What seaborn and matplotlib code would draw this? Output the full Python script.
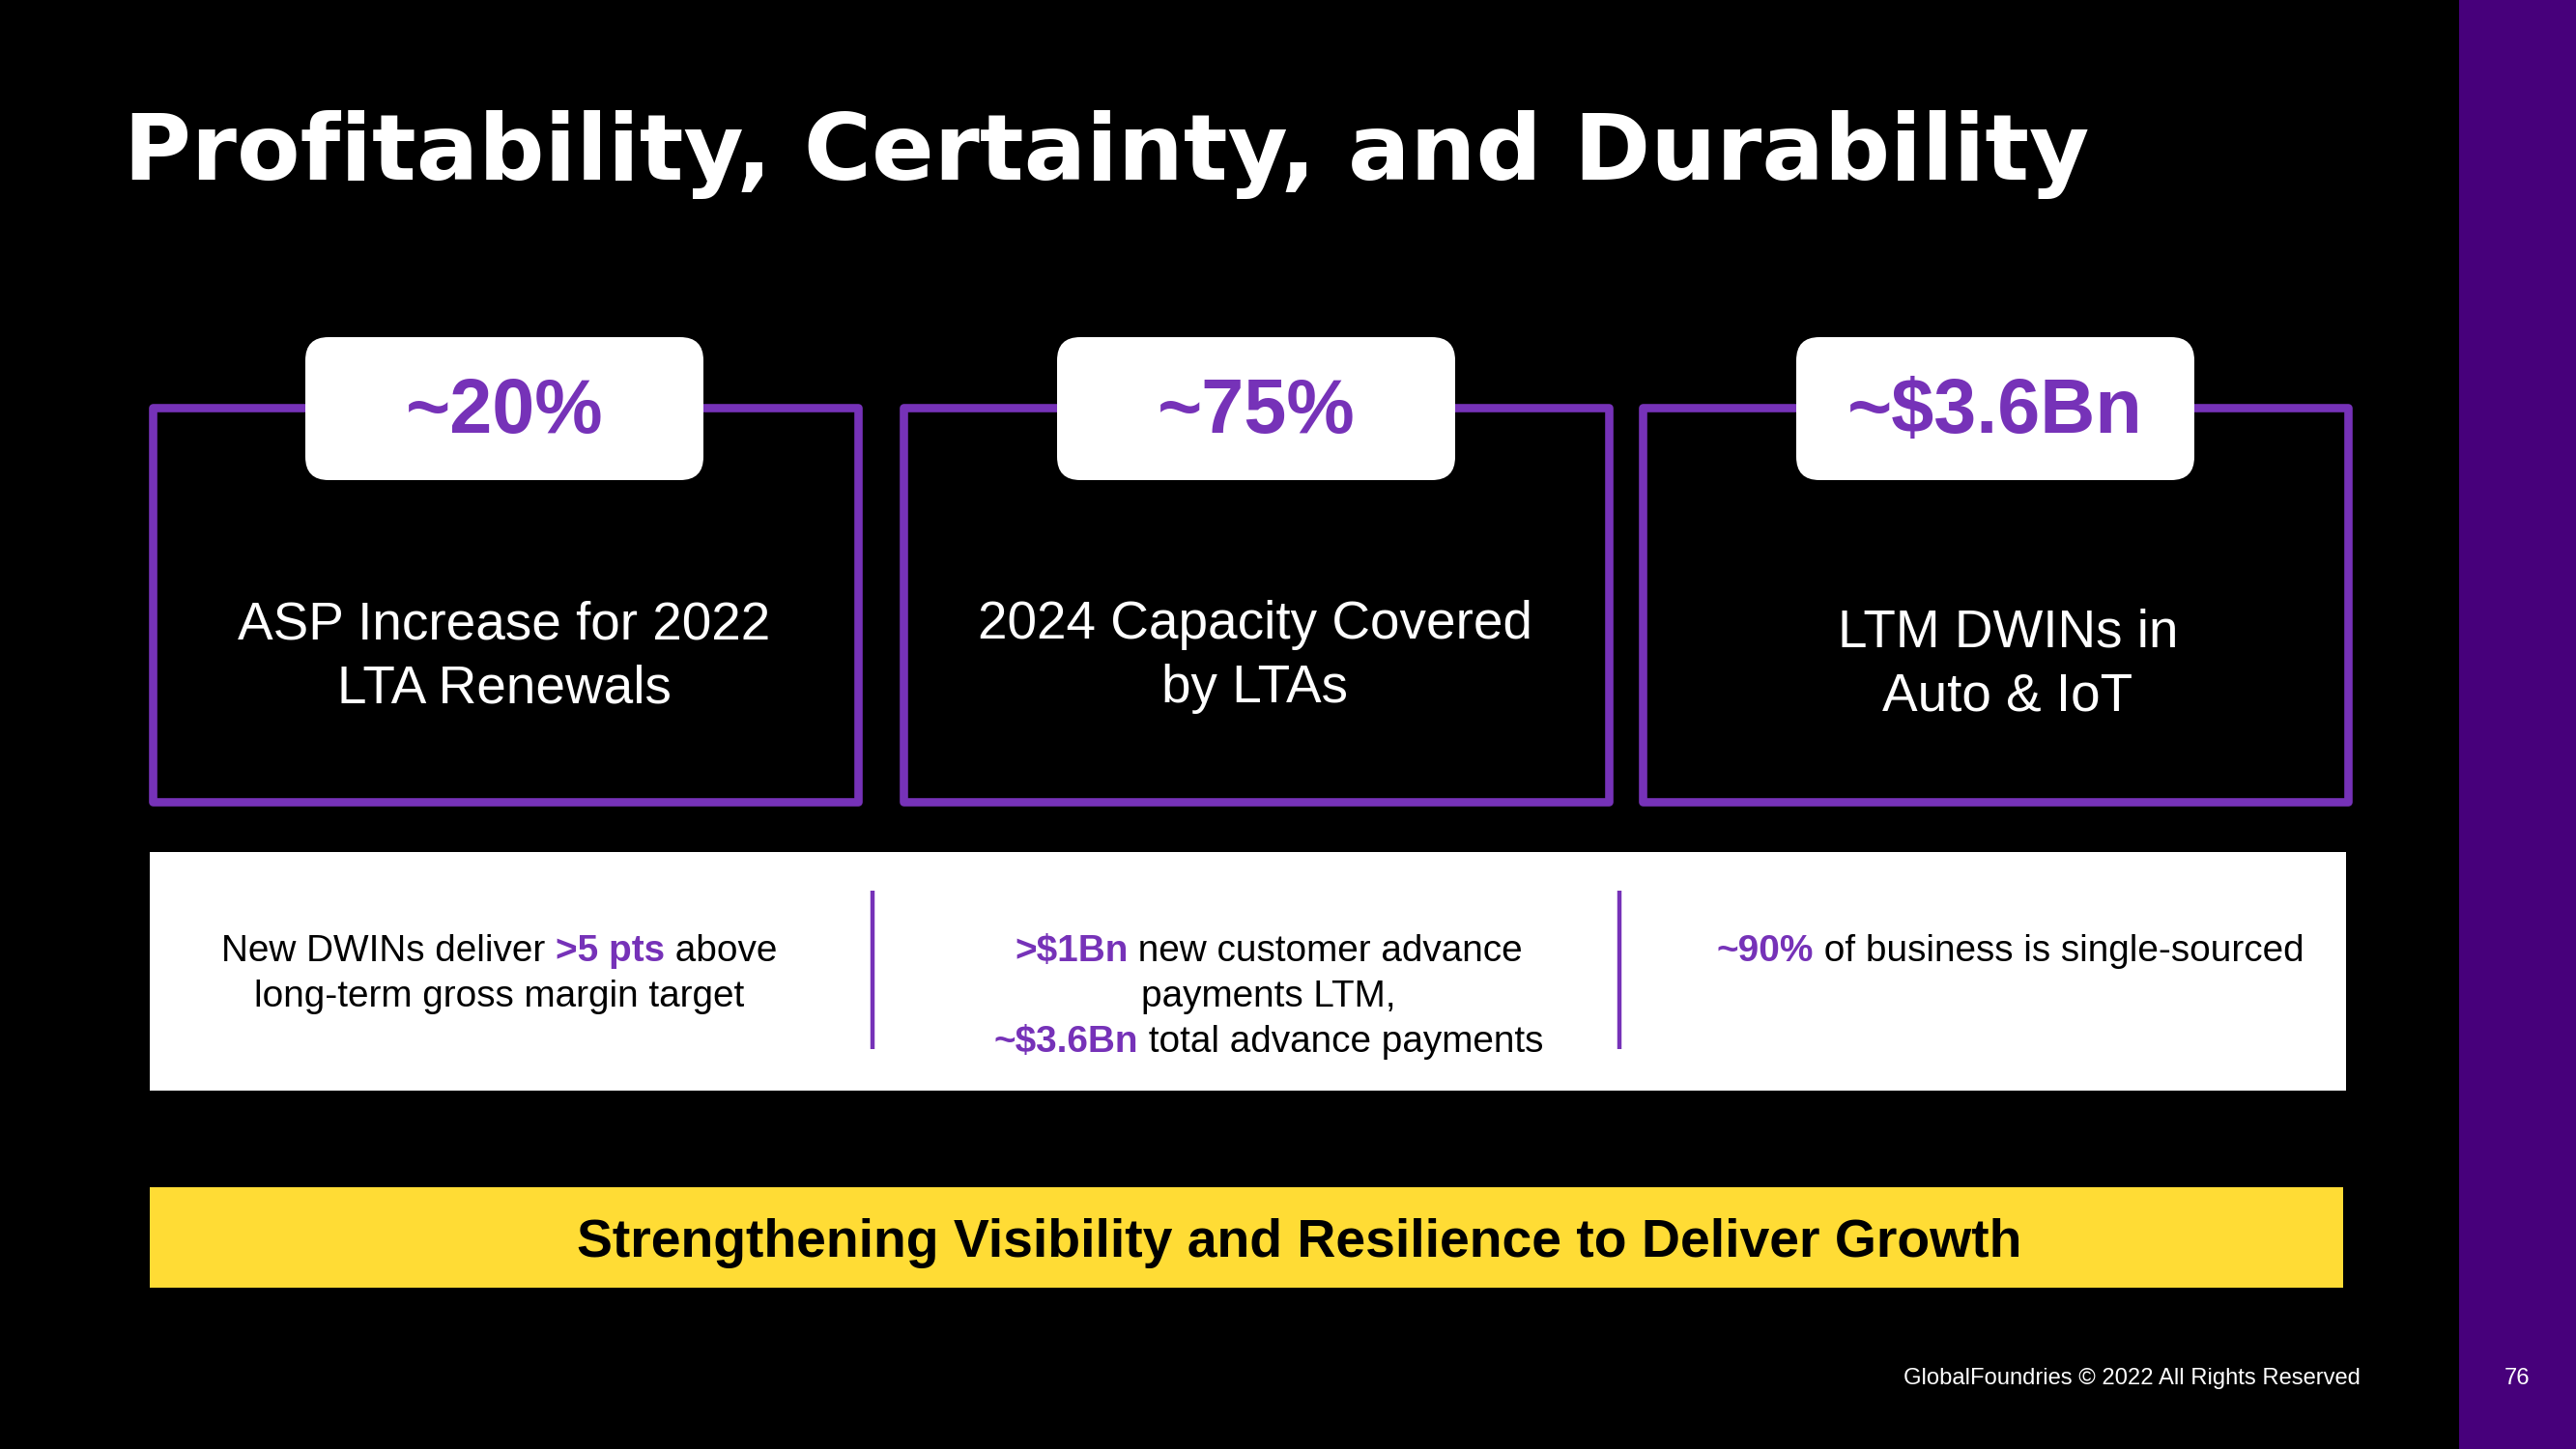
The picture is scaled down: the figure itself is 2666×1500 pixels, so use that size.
import matplotlib
matplotlib.use("Agg")
import matplotlib.pyplot as plt
from matplotlib.patches import Rectangle, FancyBboxPatch
import seaborn as sns

# ---------------- data ----------------
title_text = "Profitability, Certainty, and Durability"
headline_values = ["~20%", "~75%", "~$3.6Bn"]
headline_labels = [
    ["ASP Increase for 2022", "LTA Renewals"],
    ["2024 Capacity Covered", "by LTAs"],
    ["LTM DWINs in", "Auto & IoT"],
]
# each detail column: list of lines, each line a list of (text, highlighted)
detail_col1 = [
    [("New DWINs deliver ", False), (">5 pts", True), (" above", False)],
    [("long-term gross margin target", False)],
]
detail_col2 = [
    [(">$1Bn", True), (" new customer advance", False)],
    [("payments LTM,", False)],
    [("~$3.6Bn", True), (" total advance payments", False)],
]
detail_col3 = [
    [("~90%", True), (" of business is single-sourced", False)],
]
banner_text = "Strengthening Visibility and Resilience to Deliver Growth"
footer_text = "GlobalFoundries \u00a9 2022 All Rights Reserved"
page_number = "76"

# ---------------- style ----------------
sns.set_theme(style="white")
plt.rcParams["font.family"] = ["Liberation Sans", "DejaVu Sans"]

BG = "#000000"
PURPLE = "#7632B8"
STRIP = "#47007B"
YELLOW = "#FFDC35"
WHITE = "#FFFFFF"

W, H = 2666, 1500
fig = plt.figure(figsize=(W / 100, H / 100), dpi=100, facecolor=BG)
ax = fig.add_axes([0, 0, 1, 1])
ax.set_xlim(0, W)
ax.set_ylim(H, 0)
ax.set_facecolor(BG)
ax.axis("off")
sns.despine(ax=ax, left=True, bottom=True)

renderer = fig.canvas.get_renderer()


def text_width(s, **kw):
    t = ax.text(0, 0, "a" + s + "a", **kw)
    w1 = t.get_window_extent(renderer).width
    t.remove()
    t = ax.text(0, 0, "aa", **kw)
    w2 = t.get_window_extent(renderer).width
    t.remove()
    return w1 - w2


def fit_text(x, y, s, target_w, fs0, ha="left", **kw):
    t = ax.text(x, y, s, fontsize=fs0, ha=ha, **kw)
    w = t.get_window_extent(renderer).width
    t.set_fontsize(fs0 * target_w / w)
    return t


def draw_runs(xc, y, runs, fs):
    props = []
    widths = []
    for s, hi in runs:
        kw = dict(fontsize=fs, color=PURPLE if hi else "#000000",
                  fontweight="bold" if hi else "normal")
        props.append(kw)
        widths.append(text_width(s, **kw))
    x = xc - sum(widths) / 2
    for (s, hi), kw, w in zip(runs, props, widths):
        ax.text(x, y, s, ha="left", va="baseline", **kw)
        x += w


# right purple strip
ax.add_patch(Rectangle((2545, 0), W - 2545, H, facecolor=STRIP, edgecolor="none", zorder=1))

# title
fit_text(128, 186, title_text, 2032, 70, ha="left", va="baseline",
         color=WHITE, fontweight="heavy", family=["DejaVu Sans"])

# top three boxes
box_x = [158, 935, 1700]
box_w = 730
box_top, box_bot = 422, 830
label_cx = [522, 1300, 2065]
desc_cx = [522, 1299, 2078]
desc_base = [[662, 728], [661, 727], [669, 735]]
for i in range(3):
    ax.add_patch(Rectangle((box_x[i], box_top), box_w, box_bot - box_top,
                           facecolor="none", edgecolor=PURPLE, lw=6.2, zorder=2,
                           joinstyle="round"))
    ax.add_patch(FancyBboxPatch((label_cx[i] - 206, 349), 412, 148,
                                boxstyle="round,pad=0,rounding_size=24",
                                facecolor=WHITE, edgecolor="none", zorder=3))
    ax.text(label_cx[i], 448, headline_values[i], ha="center", va="baseline",
            fontsize=57, fontweight="bold", color=PURPLE, zorder=4)
    for line, yb in zip(headline_labels[i], desc_base[i]):
        ax.text(desc_cx[i], yb, line, ha="center", va="baseline",
                fontsize=39.5, color=WHITE, zorder=4)

# white detail panel
ax.add_patch(Rectangle((155, 882), 2428 - 155, 1129 - 882, facecolor=WHITE,
                       edgecolor="none", zorder=1))
for xd in [903, 1676]:
    ax.plot([xd, xd], [922, 1086], color=PURPLE, lw=3.2, solid_capstyle="butt", zorder=2)

detail_cols = [detail_col1, detail_col2, detail_col3]
detail_cx = [517, 1313, 2081]
line_base = [995, 1042, 1089]
for col, xc in zip(detail_cols, detail_cx):
    for line, yb in zip(col, line_base):
        draw_runs(xc, yb, line, 27.9)

# yellow banner
ax.add_patch(Rectangle((155, 1229), 2425 - 155, 1333 - 1229, facecolor=YELLOW,
                       edgecolor="none", zorder=1))
fit_text(597, 1301, banner_text, 1500, 33, ha="left", va="baseline",
         color="#000000", fontweight="bold")

# footer
ax.text(2443, 1433, footer_text, ha="right", va="baseline", fontsize=17.1, color=WHITE)
ax.text(2605, 1433, page_number, ha="center", va="baseline", fontsize=17.1, color=WHITE)

fig.savefig("out.png", dpi=100, facecolor=BG)
